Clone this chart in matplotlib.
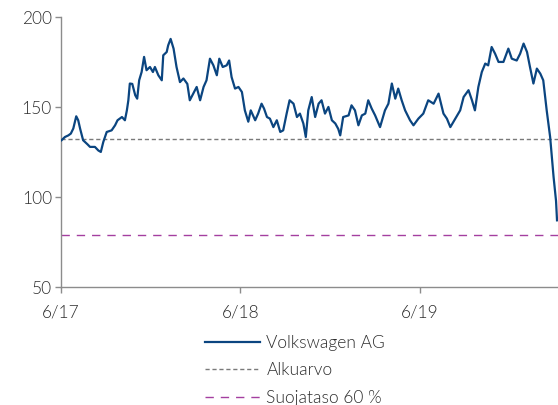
import matplotlib
matplotlib.use("Agg")
import matplotlib.pyplot as plt
import pandas as pd

start_date = "2017-06-01"
day_offsets = [1, 8, 15, 20, 25, 31, 35, 39, 45, 54, 59, 69, 76, 81, 86, 93, 103, 110, 115, 124,
               130, 134, 137, 140, 145, 151, 155, 159, 164, 169, 174, 181, 187, 191, 198, 205, 208, 215, 218, 223,
               229, 235, 242, 249, 257, 262, 269, 276, 283, 290, 296, 303, 310, 317, 322, 329, 337, 342, 347, 354,
               361, 368, 374, 381, 386, 395, 401, 408, 413, 419, 425, 432, 439, 446, 452, 459, 465, 473, 480, 486,
               493, 498, 503, 510, 517, 524, 530, 537, 544, 551, 558, 564, 568, 574, 585, 591, 598, 605, 612, 619,
               625, 632, 639, 649, 659, 666, 673, 680, 686, 693, 700, 710, 717, 727, 737, 747, 758, 768, 778, 785,
               792, 802, 812, 819, 829, 836, 842, 849, 856, 863, 869, 876, 883, 890, 900, 910, 917, 927, 934, 941,
               948, 954, 961, 968, 975, 981, 988, 995, 1002, 1007, 1009]
vw_values = [131.7, 133.5, 134.4, 135.4, 138.2, 145.0, 142.8, 138.0, 131.7, 129.4, 128.0, 128.0, 126.0, 125.2, 130.7, 136.3, 137.2, 140.0, 142.8, 144.6,
             142.8, 148.3, 153.9, 163.2, 163.0, 156.7, 154.8, 165.0, 169.6, 178.0, 170.6, 172.4, 169.6, 172.4, 167.8, 165.0, 178.9, 180.7, 184.4, 188.0,
             182.6, 172.4, 164.0, 166.0, 163.0, 153.9, 157.6, 161.3, 153.9, 161.3, 165.0, 177.0, 173.3, 167.8, 177.0, 172.4, 173.3, 176.0, 166.8, 160.4,
             161.3, 158.5, 148.3, 142.0, 148.3, 142.8, 146.5, 152.0, 149.3, 144.6, 143.7, 139.0, 142.8, 136.3, 137.2, 146.5, 153.9, 152.0, 144.6, 146.5,
             141.0, 133.5, 148.3, 155.7, 144.6, 152.0, 153.9, 146.5, 150.2, 142.8, 141.0, 138.0, 134.4, 144.6, 145.5, 151.1, 148.3, 140.0, 145.5, 146.5,
             153.9, 149.3, 145.5, 139.0, 148.3, 152.0, 163.2, 154.8, 160.4, 153.9, 148.3, 142.8, 140.0, 143.7, 146.5, 153.9, 152.0, 157.6, 146.5, 143.7,
             139.0, 143.7, 148.3, 155.7, 159.5, 153.9, 148.3, 161.3, 169.6, 174.3, 173.3, 183.5, 179.8, 175.2, 175.2, 182.6, 177.0, 176.0, 179.8, 185.4,
             180.7, 172.4, 163.2, 171.5, 168.7, 165.0, 148.3, 133.5, 111.3, 98.0, 87.2]
initial_value = 132.2
protection_pct = 0.6
series_labels = ["Volkswagen AG", "Alkuarvo", "Suojataso 60 %"]
tick_dates = ["2017-06-01", "2018-06-01", "2019-06-01"]
tick_labels = ["6/17", "6/18", "6/19"]
y_ticks = [50, 100, 150, 200]

dates = pd.Timestamp(start_date) + pd.to_timedelta(day_offsets, unit="D")

plt.rcParams["font.family"] = ["Lato", "DejaVu Sans"]
plt.rcParams["font.weight"] = 300

fig = plt.figure(figsize=(5.58, 4.05), dpi=100)
ax = fig.add_axes([61 / 558, 1 - 287.3 / 405, (558 - 61) / 558, (287.3 - 17.3) / 405])

ax.plot(dates, vw_values, color="#0b4580", lw=1.6, label=series_labels[0], zorder=3)
ax.axhline(initial_value, color="#7a7a7a", lw=1.0, ls=(0, (3, 2)), label=series_labels[1])
ax.axhline(initial_value * protection_pct, color="#a43fa0", lw=1.0, ls=(0, (6, 5)), label=series_labels[2])

ax.set_ylim(50, 200)
ax.set_xlim(pd.Timestamp(start_date), pd.Timestamp(start_date) + pd.Timedelta(days=1011))
ax.set_yticks(y_ticks)
ax.set_xticks(pd.to_datetime(tick_dates))
ax.set_xticklabels(tick_labels)

for s in ["top", "right"]:
    ax.spines[s].set_visible(False)
for s in ["left", "bottom"]:
    ax.spines[s].set_color("#8c8c8c")
    ax.spines[s].set_linewidth(1.0)
ax.tick_params(axis="both", colors="#8c8c8c", labelcolor="#2e2e2e", labelsize=12.5, length=4.5, width=1.0)
ax.tick_params(axis="y", pad=2)
ax.tick_params(axis="x", pad=8)

fig.legend(loc="upper left", bbox_to_anchor=(196 / 558, 1 - 326 / 405), frameon=False,
           fontsize=12.5, handlelength=3.2, handletextpad=0.35, labelspacing=0.66,
           borderpad=0, labelcolor="#2e2e2e")

fig.savefig("out.png", dpi=100)
